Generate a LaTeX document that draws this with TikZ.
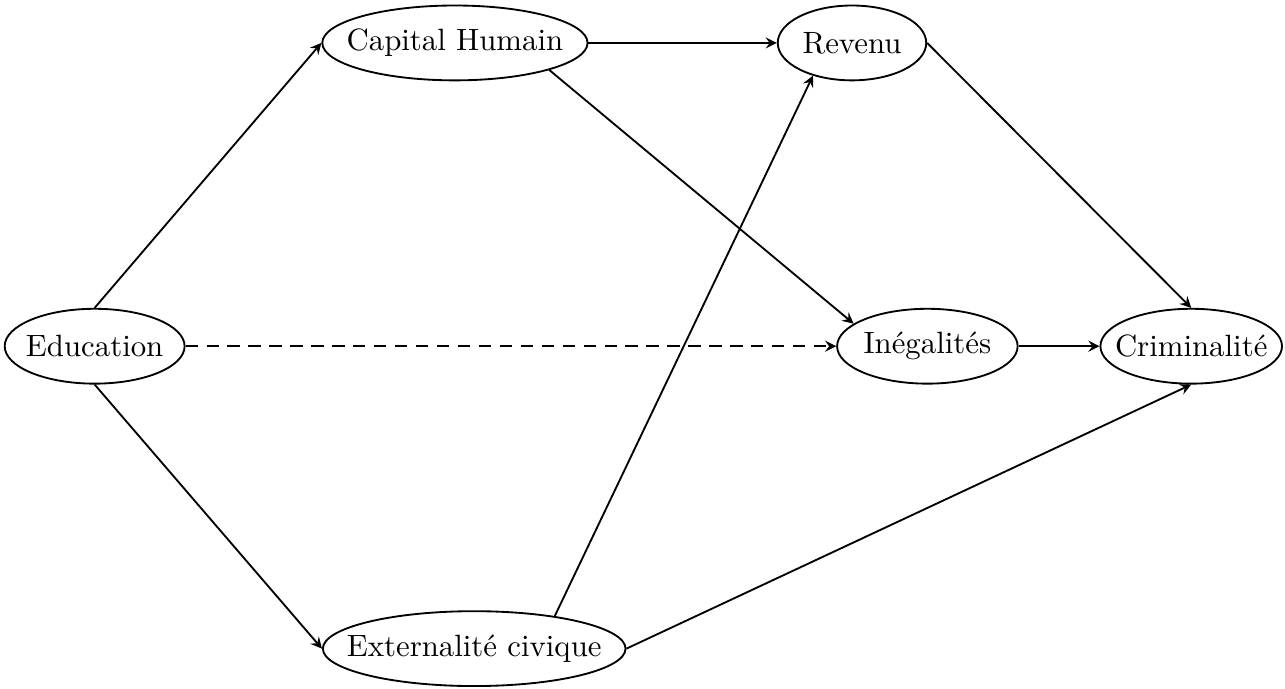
\documentclass[tikz,border=0pt]{standalone}
\usepackage{tikz}
\usetikzlibrary{shapes.geometric}
\tikzset{>=stealth}
\tikzset{etat/.style={ellipse, draw, semithick, inner ysep=0pt, minimum height=24.3pt}}

\begin{document}
\begin{tikzpicture}
	\useasboundingbox (0,0) rectangle (14.66,7.86);
	% les noeuds
	\node [etat, inner xsep=-1.65pt] (edu) at (1.08,3.91) {Education};
	\node [etat, inner xsep=-4.7pt] (cap) at (5.19,7.37) {Capital Humain};
	\node [etat, inner xsep=1pt] (rev) at (9.72,7.37) {Revenu};
	\node [etat, inner xsep=0pt] (ineg) at (10.58,3.91) {In\'egalit\'es};
	\node [etat, inner xsep=-3.9pt] (crim) at (13.59,3.91) {Criminalit\'e};
	\node [etat, inner xsep=-6.6pt] (ext) at (5.41,0.46) {Externalit\'e civique};
	% les fleches
	\draw [->, semithick] (edu.north) -- (cap.west);
	\draw [->, semithick] (edu.south) -- (ext.west);
	\draw [->, semithick, dash pattern=on 4pt off 2.8pt] (edu.east) -- (ineg.west);
	\draw [->, semithick] (cap.east) -- (rev.west);
	\draw [->, semithick] (cap.south east) -- (ineg.163);
	\draw [->, semithick] (ext.22) -- (rev.-140);
	\draw [->, semithick] (ext.east) -- (crim.south);
	\draw [->, semithick] (rev.east) -- (crim.north);
	\draw [->, semithick] (ineg.east) -- (crim.west);
\end{tikzpicture}
\end{document}
